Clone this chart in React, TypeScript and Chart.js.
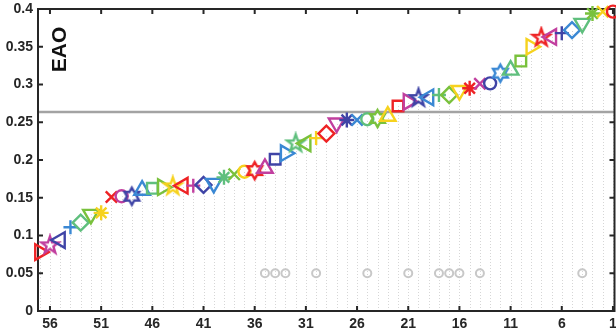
import React, { useEffect, useRef } from "react";
import { Chart, registerables } from "chart.js";

Chart.register(...registerables);

// ---------- data ----------
const ranks = [
  57, 56, 55, 54, 53, 52, 51, 50, 49, 48, 47, 46, 45, 44, 43, 42, 41, 40, 39, 38,
  37, 36, 35, 34, 33, 32, 31, 30, 29, 28, 27, 26, 25, 24, 23, 22, 21, 20, 19, 18,
  17, 16, 15, 14, 13, 12, 11, 10, 9, 8, 7, 6, 5, 4, 3, 2, 1,
];
const eao = [
  0.078, 0.087, 0.094, 0.111, 0.117, 0.128, 0.130, 0.151, 0.152, 0.152, 0.160, 0.1625,
  0.164, 0.165, 0.166, 0.166, 0.167, 0.169, 0.177, 0.181, 0.1845, 0.186, 0.189, 0.201,
  0.209, 0.222, 0.222, 0.229, 0.235, 0.249, 0.253, 0.253, 0.254, 0.255, 0.258, 0.2715,
  0.277, 0.282, 0.283, 0.286, 0.286, 0.292, 0.295, 0.301, 0.3015, 0.315, 0.319, 0.331,
  0.350, 0.362, 0.363, 0.368, 0.372, 0.381, 0.394, 0.3965, 0.3965,
];
const sotaRanks = [35, 34, 33, 30, 25, 21, 18, 17, 16, 14, 4];
const sotaLevel = [0.05, 0.05, 0.05, 0.05, 0.05, 0.05, 0.05, 0.05, 0.05, 0.05, 0.05];
const thresholdEAO = 0.2635;
const xTickValues = [56, 51, 46, 41, 36, 31, 26, 21, 16, 11, 6, 1];
const yTickValues = [0, 0.05, 0.1, 0.15, 0.2, 0.25, 0.3, 0.35, 0.4];
const axisTitle = "EAO";

// ---------- styles ----------
const shapeCycle = ["triR", "penta", "triL", "plus", "diamond", "triD", "star", "x", "circle", "hexa", "triU", "square"];
const colorCycle = ["#ee2224", "#c13f9f", "#3f44a6", "#3a88d4", "#5fbf7d", "#79c13c", "#f6d21e"];
const FONT = "'Liberation Sans', Arial, Helvetica, sans-serif";
const LW = 2.4;

function starCanvas(points: number, outer: number, inner: number, color: string) {
  const size = Math.ceil(outer * 2 + 6);
  const c = document.createElement("canvas");
  c.width = size;
  c.height = size;
  const ctx = c.getContext("2d")!;
  ctx.strokeStyle = color;
  ctx.lineWidth = LW;
  ctx.lineJoin = "miter";
  ctx.beginPath();
  for (let k = 0; k < points * 2; k++) {
    const r = k % 2 === 0 ? outer : inner;
    const a = -Math.PI / 2 + (k * Math.PI) / points;
    const px = size / 2 + r * Math.cos(a);
    const py = size / 2 + r * Math.sin(a);
    if (k === 0) ctx.moveTo(px, py);
    else ctx.lineTo(px, py);
  }
  ctx.closePath();
  ctx.stroke();
  return c;
}

function styleFor(i: number) {
  const shape = shapeCycle[i % shapeCycle.length];
  const color = colorCycle[i % colorCycle.length];
  switch (shape) {
    case "triR": return { style: "triangle", rot: 90, r: 9, color };
    case "triL": return { style: "triangle", rot: 270, r: 9, color };
    case "triD": return { style: "triangle", rot: 180, r: 9, color };
    case "triU": return { style: "triangle", rot: 0, r: 9, color };
    case "plus": return { style: "cross", rot: 0, r: 7, color };
    case "x": return { style: "crossRot", rot: 0, r: 8, color };
    case "diamond": return { style: "rectRot", rot: 0, r: 8, color };
    case "star": return { style: "star", rot: 0, r: 7.5, color };
    case "circle": return { style: "circle", rot: 0, r: 6, color };
    case "square": return { style: "rect", rot: 0, r: 7.5, color };
    case "penta": return { style: starCanvas(5, 9, 3.6, color), rot: 0, r: 9, color };
    case "hexa": return { style: starCanvas(6, 8.5, 4.9, color), rot: 0, r: 8.5, color };
  }
  return { style: "circle", rot: 0, r: 5, color };
}

const decorPlugin = {
  id: "decor",
  beforeDatasetsDraw(chart: any) {
    const { ctx, chartArea: a, scales } = chart;
    const x = scales.x;
    const y = scales.y;
    ctx.save();
    // dotted verticals from 0 up to each tracker's score
    ctx.strokeStyle = "#d6d6d6";
    ctx.lineWidth = 1;
    ctx.setLineDash([1, 2]);
    const y0 = y.getPixelForValue(0);
    ranks.forEach((r, i) => {
      const px = Math.round(x.getPixelForValue(r)) + 0.5;
      ctx.beginPath();
      ctx.moveTo(px, y0);
      ctx.lineTo(px, y.getPixelForValue(eao[i]));
      ctx.stroke();
    });
    ctx.setLineDash([]);
    // threshold line
    const ty = y.getPixelForValue(thresholdEAO);
    ctx.strokeStyle = "#a3a3a3";
    ctx.lineWidth = 2.5;
    ctx.beginPath();
    ctx.moveTo(a.left, ty);
    ctx.lineTo(a.right, ty);
    ctx.stroke();
    // axes box
    ctx.strokeStyle = "#262626";
    ctx.lineWidth = 2;
    ctx.strokeRect(a.left, a.top, a.right - a.left, a.bottom - a.top);
    // inward ticks
    const tl = 5;
    ctx.beginPath();
    xTickValues.forEach((v) => {
      const px = x.getPixelForValue(v);
      ctx.moveTo(px, a.bottom);
      ctx.lineTo(px, a.bottom - tl);
      ctx.moveTo(px, a.top);
      ctx.lineTo(px, a.top + tl);
    });
    yTickValues.forEach((v) => {
      const py = y.getPixelForValue(v);
      ctx.moveTo(a.left, py);
      ctx.lineTo(a.left + tl, py);
      ctx.moveTo(a.right, py);
      ctx.lineTo(a.right - tl, py);
    });
    ctx.stroke();
    // axis title inside the plot
    ctx.translate(a.left + 22.5, a.top + 40.5);
    ctx.rotate(-Math.PI / 2);
    ctx.fillStyle = "#111111";
    ctx.font = `bold 21px ${FONT}`;
    ctx.textAlign = "center";
    ctx.textBaseline = "middle";
    ctx.fillText(axisTitle, 0, 0);
    ctx.restore();
  },
};

export default function App() {
  const ref = useRef<HTMLCanvasElement | null>(null);
  useEffect(() => {
    if (!ref.current) return;
    const styles = ranks.map((_, i) => styleFor(i));
    const chart = new Chart(ref.current, {
      type: "scatter",
      data: {
        datasets: [
          {
            data: ranks.map((r, i) => ({ x: r, y: eao[i] })),
            pointStyle: styles.map((s) => s.style) as any,
            pointRotation: styles.map((s) => s.rot),
            pointRadius: styles.map((s) => s.r),
            pointBorderColor: styles.map((s) => s.color),
            pointBackgroundColor: "rgba(0,0,0,0)",
            pointBorderWidth: LW,
            showLine: false,
            clip: false as any,
          },
          {
            data: sotaRanks.map((r, i) => ({ x: r, y: sotaLevel[i] })),
            pointStyle: "circle",
            pointRadius: 4,
            pointBorderColor: "#c8c8c8",
            pointBackgroundColor: "rgba(0,0,0,0)",
            pointBorderWidth: 2,
            showLine: false,
          },
        ],
      },
      options: {
        responsive: false,
        animation: false,
        events: [],
        layout: { autoPadding: false, padding: { top: 9, right: 1.5, left: 0, bottom: 0 } },
        plugins: { legend: { display: false }, tooltip: { enabled: false } },
        scales: {
          x: {
            type: "linear",
            reverse: true,
            min: 0.85,
            max: 57.17,
            grid: { display: false, drawTicks: false },
            border: { display: false },
            afterBuildTicks: (s: any) => {
              s.ticks = xTickValues.map((v) => ({ value: v }));
            },
            afterFit: (s: any) => {
              s.height = 20;
              s.paddingLeft = 0;
              s.paddingRight = 0;
            },
            ticks: {
              autoSkip: false,
              maxRotation: 0,
              padding: 5,
              color: "#262626",
              font: { family: FONT, size: 14, weight: "bold" },
              callback: (v: any) => String(v),
            },
          },
          y: {
            type: "linear",
            min: 0,
            max: 0.4,
            grid: { display: false, drawTicks: false },
            border: { display: false },
            afterBuildTicks: (s: any) => {
              s.ticks = yTickValues.map((v) => ({ value: v }));
            },
            afterFit: (s: any) => {
              s.width = 38;
              s.paddingTop = 0;
              s.paddingBottom = 0;
            },
            ticks: {
              padding: 5,
              color: "#262626",
              font: { family: FONT, size: 14, weight: "bold" },
              callback: (v: any) => String(Number(Number(v).toFixed(2))),
            },
          },
        },
      },
      plugins: [decorPlugin],
    });
    return () => chart.destroy();
  }, []);
  return (
    <div style={{ position: "fixed", left: 0, top: 0, width: 616, height: 331, background: "#fff" }}>
      <canvas ref={ref} width={616} height={331} />
    </div>
  );
}
